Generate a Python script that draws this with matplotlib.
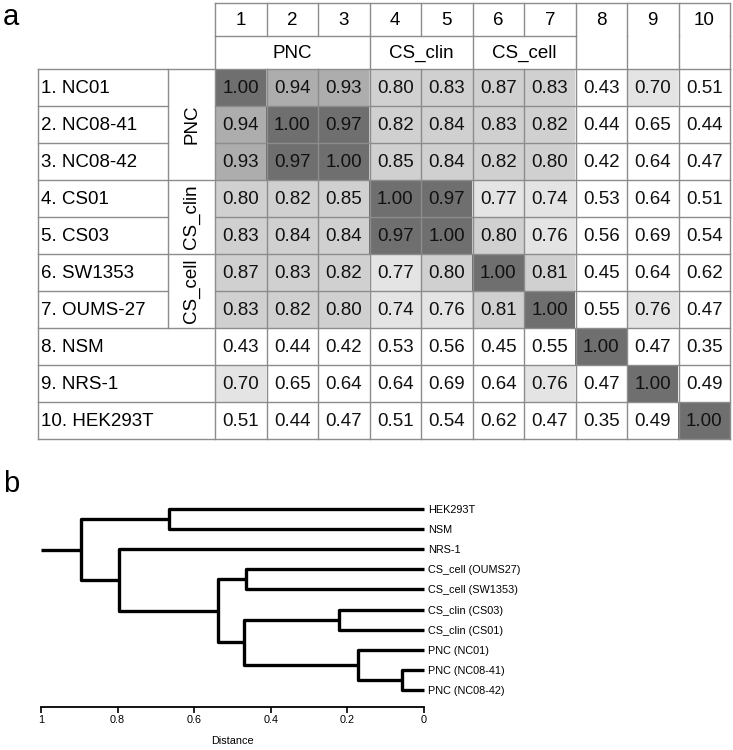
import numpy as np
import matplotlib
matplotlib.use("Agg")
import matplotlib.pyplot as plt
from matplotlib.colors import ListedColormap, BoundaryNorm
from matplotlib import font_manager

plt.rcParams['font.family'] = ['Liberation Sans', 'DejaVu Sans']

# ---------------- data ----------------
row_labels = ["1. NC01", "2. NC08-41", "3. NC08-42", "4. CS01", "5. CS03",
              "6. SW1353", "7. OUMS-27", "8. NSM", "9. NRS-1", "10. HEK293T"]
col_numbers = ["1", "2", "3", "4", "5", "6", "7", "8", "9", "10"]
group_names = ["PNC", "CS_clin", "CS_cell"]
group_starts = [0, 3, 5]
group_ends = [3, 5, 7]

corr = np.array([
    [1.00, 0.94, 0.93, 0.80, 0.83, 0.87, 0.83, 0.43, 0.70, 0.51],
    [0.94, 1.00, 0.97, 0.82, 0.84, 0.83, 0.82, 0.44, 0.65, 0.44],
    [0.93, 0.97, 1.00, 0.85, 0.84, 0.82, 0.80, 0.42, 0.64, 0.47],
    [0.80, 0.82, 0.85, 1.00, 0.97, 0.77, 0.74, 0.53, 0.64, 0.51],
    [0.83, 0.84, 0.84, 0.97, 1.00, 0.80, 0.76, 0.56, 0.69, 0.54],
    [0.87, 0.83, 0.82, 0.77, 0.80, 1.00, 0.81, 0.45, 0.64, 0.62],
    [0.83, 0.82, 0.80, 0.74, 0.76, 0.81, 1.00, 0.55, 0.76, 0.47],
    [0.43, 0.44, 0.42, 0.53, 0.56, 0.45, 0.55, 1.00, 0.47, 0.35],
    [0.70, 0.65, 0.64, 0.64, 0.69, 0.64, 0.76, 0.47, 1.00, 0.49],
    [0.51, 0.44, 0.47, 0.51, 0.54, 0.62, 0.47, 0.35, 0.49, 1.00],
])
shade_bounds = [0.0, 0.695, 0.795, 0.895, 0.955, 1.01]

leaf_labels = ["HEK293T", "NSM", "NRS-1", "CS_cell (OUMS27)", "CS_cell (SW1353)",
               "CS_clin (CS03)", "CS_clin (CS01)", "PNC (NC01)", "PNC (NC08-41)",
               "PNC (NC08-42)"]
# merges: (child a, child b, height); nodes >= 10 are earlier merges
merge_a = [8, 7, 5, 3, 12, 13, 0, 2, 16]
merge_b = [9, 10, 6, 4, 11, 14, 1, 15, 17]
merge_h = [0.058, 0.173, 0.222, 0.465, 0.471, 0.539, 0.665, 0.796, 0.895]
root_stem = 1.0
dist_ticks = [1, 0.8, 0.6, 0.4, 0.2, 0]
dist_tick_labels = ["1", "0.8", "0.6", "0.4", "0.2", "0"]

# narrow font for the dendrogram if available
avail = {f.name for f in font_manager.fontManager.ttflist}
narrow = ['Liberation Sans Narrow', 'Liberation Sans'] if 'Liberation Sans Narrow' in avail \
    else ['Liberation Sans', 'DejaVu Sans']
dfs = 8.8 if 'Liberation Sans Narrow' in avail else 7.8

# ---------------- figure ----------------
W, H = 733, 750
fig = plt.figure(figsize=(W / 100, H / 100), dpi=100)

tx0, tx1, ty0, ty1 = 215, 730, 69, 439
ax = fig.add_axes([tx0 / W, 1 - ty1 / H, (tx1 - tx0) / W, (ty1 - ty0) / H])
ax.set_xlim(0, 10)
ax.set_ylim(10, 0)
ax.axis('off')
cw = (tx1 - tx0) / 10.0
rh = (ty1 - ty0) / 10.0

cmap = ListedColormap(["white", "#e4e4e4", "#d0d0d0", "#adadad", "#6f6f6f"])
norm = BoundaryNorm(shade_bounds, cmap.N)
ax.imshow(corr, cmap=cmap, norm=norm, extent=(0, 10, 10, 0),
          interpolation='nearest', aspect='auto', zorder=1)

xL = (38 - tx0) / cw
xG = (168 - tx0) / cw
yT = (3 - ty0) / rh
yM = (36 - ty0) / rh

lc = "#8c8c8c"
lw = 1.0
kw = dict(color=lc, lw=lw, clip_on=False, zorder=3, solid_capstyle='projecting')

n = len(row_labels)
bounds_set = set(group_starts) | set(group_ends)
for k in range(n + 1):
    if k in bounds_set or k >= group_ends[-1]:
        ax.plot([xL, 10], [k, k], **kw)
    else:
        ax.plot([xL, xG], [k, k], **kw)
        ax.plot([0, 10], [k, k], **kw)
for j in range(n + 1):
    ax.plot([j, j], [0, n], **kw)
ax.plot([xL, xL], [0, n], **kw)
ax.plot([xG, xG], [0, group_ends[-1]], **kw)
ax.plot([0, 10], [yT, yT], **kw)
ax.plot([0, group_ends[-1]], [yM, yM], **kw)
for j in range(n + 1):
    ax.plot([j, j], [yT, yM], **kw)
    if j in bounds_set or j >= group_ends[-1] or j == 0:
        ax.plot([j, j], [yM, 0], **kw)

fs = 13.5
for i in range(n):
    for j in range(n):
        ax.text(j + 0.5, i + 0.52, f"{corr[i, j]:.2f}", ha='center', va='center',
                fontsize=fs, color='#111111', zorder=4)
    ax.text(xL + 3 / cw, i + 0.52, row_labels[i], ha='left', va='center',
            fontsize=fs, zorder=4, clip_on=False)
for j in range(n):
    ax.text(j + 0.5, (yT + yM) / 2 + 0.03, col_numbers[j], ha='center', va='center',
            fontsize=fs, clip_on=False)
for g, s, e in zip(group_names, group_starts, group_ends):
    ax.text((s + e) / 2, yM / 2 + 0.03, g, ha='center', va='center', fontsize=fs,
            clip_on=False)
    ax.text(xG / 2, (s + e) / 2, g, ha='center', va='center', fontsize=fs,
            rotation=90, clip_on=False)

# ---------------- dendrogram ----------------
dx0, dx1, dy0, dy1 = 41, 424, 497, 707
ax2 = fig.add_axes([dx0 / W, 1 - dy1 / H, (dx1 - dx0) / W, (dy1 - dy0) / H])
ax2.set_xlim(1, 0)
ax2.set_ylim(9.85, -0.6)

node_y = {i: float(i) for i in range(len(leaf_labels))}
node_h = {i: 0.0 for i in range(len(leaf_labels))}
dk = dict(color='black', lw=2.4, solid_capstyle='butt', clip_on=False)
for m, (a, b, h) in enumerate(zip(merge_a, merge_b, merge_h)):
    nid = len(leaf_labels) + m
    ya, yb = node_y[a], node_y[b]
    ax2.plot([node_h[a], h, h, node_h[b]], [ya, ya, yb, yb], **dk)
    node_y[nid] = (ya + yb) / 2
    node_h[nid] = h
root = len(leaf_labels) + len(merge_h) - 1
ax2.plot([node_h[root], root_stem], [node_y[root], node_y[root]], **dk)

for s in ['top', 'left', 'right']:
    ax2.spines[s].set_visible(False)
ax2.spines['bottom'].set_linewidth(1.3)
ax2.set_xticks(dist_ticks)
ax2.set_xticklabels(dist_tick_labels, family=narrow, fontsize=dfs)
ax2.tick_params(axis='x', direction='out', length=4, width=1.2, pad=2)
ax2.yaxis.tick_right()
ax2.set_yticks(range(len(leaf_labels)))
ax2.set_yticklabels(leaf_labels, family=narrow, fontsize=dfs)
ax2.tick_params(axis='y', length=0, pad=3)
ax2.set_xlabel("Distance", family=narrow, fontsize=dfs, labelpad=8)

fig.text(3 / W, 1 - 17 / H, "a", fontsize=21, ha='left', va='center')
fig.text(3 / W, 1 - 484 / H, "b", fontsize=21, ha='left', va='center')

fig.savefig("out.png", dpi=100)
